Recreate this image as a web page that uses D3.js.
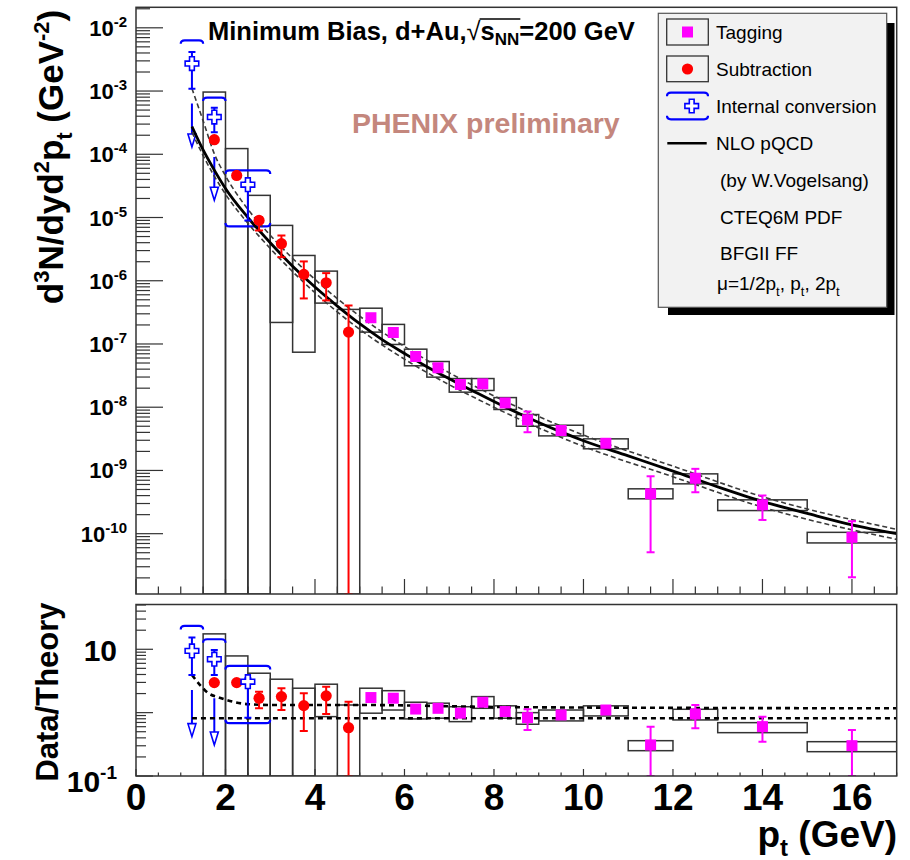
<!DOCTYPE html>
<html>
<head>
<meta charset="utf-8">
<script src="https://cdn.jsdelivr.net/npm/d3@7"></script>
<style>
  body { margin: 0; background: #fff; }
  svg { display: block; font-family: "Liberation Sans", Arial, Helvetica, sans-serif; }
</style>
</head>
<body>
<svg id="chart" width="910" height="860"></svg>
<script>
// ---- data: upper panel (d3N/dyd2pt, GeV^-2) ----
// Subtraction (red circles) + systematic boxes
const subPt = [1.75, 2.25, 2.75, 3.25, 3.75, 4.25, 4.75];
const subVal = [1.70e-4, 4.63e-5, 9.0e-6, 3.85e-6, 1.26e-6, 9.29e-7, 1.54e-7];
const subErrHi = [null, null, 1.01e-5, 5.21e-6, 2.02e-6, 1.32e-6, 4.06e-7];
const subErrLo = [null, null, 6.25e-6, 2.36e-6, 5.25e-7, 4.88e-7, 1e-13];
const subBinLo = [1.5, 2.0, 2.5, 3.0, 3.5, 4.0, 4.5];
const subBinHi = [2.0, 2.5, 3.0, 3.5, 4.0, 4.5, 5.0];
const subSysHi = [9.64e-4, 1.23e-4, 2.24e-5, 7.5e-6, 2.51e-6, 1.42e-6, 3.52e-7];
const subSysLo = [1e-13, 1e-13, 1e-13, 2.19e-7, 7.41e-8, 4.43e-7, 1e-13];

// Tagging (magenta squares) + systematic boxes
const tagPt = [5.25, 5.75, 6.25, 6.75, 7.25, 7.75, 8.25, 8.75, 9.5, 10.5, 11.5, 12.5, 14, 16];
const tagVal = [2.60e-7, 1.52e-7, 6.34e-8, 4.20e-8, 2.29e-8, 2.34e-8, 1.17e-8, 6.32e-9, 4.28e-9, 2.69e-9, 4.27e-10, 7.53e-10, 2.86e-10, 8.77e-11];
const tagErrHi = [null, null, null, null, null, null, null, 8.55e-9, null, null, 8.09e-10, 1.06e-9, 4.01e-10, 1.57e-10];
const tagErrLo = [null, null, null, null, null, null, null, 4.02e-9, null, null, 5.08e-11, 4.52e-10, 1.65e-10, 2.04e-11];
const tagBinLo = [5.0, 5.5, 6.0, 6.5, 7.0, 7.5, 8.0, 8.5, 9, 10, 11, 12, 13, 15];
const tagBinHi = [5.5, 6.0, 6.5, 7.0, 7.5, 8.0, 8.5, 9.0, 10, 11, 12, 13, 15, 17];
const tagSysHi = [3.68e-7, 2.04e-7, 8.28e-8, 5.28e-8, 2.84e-8, 2.84e-8, 1.42e-8, 7.66e-9, 5.19e-9, 3.16e-9, 5.12e-10, 8.83e-10, 3.43e-10, 1.05e-10];
const tagSysLo = [1.54e-7, 9.82e-8, 4.52e-8, 2.99e-8, 1.73e-8, 1.84e-8, 9.2e-9, 5.0e-9, 3.52e-9, 2.2e-9, 3.56e-10, 6.14e-10, 2.32e-10, 7.14e-11];

// Internal conversion (blue open crosses), brackets and downward arrows
const icPt = [1.25, 1.75, 2.5];
const icVal = [2.72e-3, 3.88e-4, 3.30e-5];
const icErrHi = [4.14e-3, 5.46e-4, 3.6e-5];
const icErrLo = [1.09e-3, 2.24e-4, 9.0e-6];
const icBinLo = [1.0, 1.5, 2.0];
const icBinHi = [1.5, 2.0, 3.0];
const icSysHi = [6.34e-3, 7.87e-4, 5.56e-5];
const icSysLo = [null, null, 7.23e-6];
const icArrowFrom = [6.38e-4, 9.04e-5, null];
const icArrowTo = [1.30e-4, 1.87e-5, null];

// NLO pQCD (W. Vogelsang), mu = pt (solid), pt/2 and 2pt (dashed)
const thPt = [1.25, 1.5, 1.75, 2.0, 2.5, 3.0, 3.5, 4.0, 4.5, 5.0, 5.5, 6.0, 6.5, 7.0, 7.5, 8.0, 8.5, 9.0, 9.5, 10, 11, 12, 13, 14, 15, 16, 17];
const thVal = [2.75e-4, 1.17e-4, 5.62e-5, 2.88e-5, 1.0e-5, 3.98e-6, 1.70e-6, 7.94e-7, 3.98e-7, 2.09e-7, 1.17e-7, 7.08e-8, 4.37e-8, 2.82e-8, 1.86e-8, 1.23e-8, 8.32e-9, 5.75e-9, 4.07e-9, 2.95e-9, 1.70e-9, 9.77e-10, 5.50e-10, 3.24e-10, 2.09e-10, 1.38e-10, 1.0e-10];
const thHiPt = [1.25, 1.5, 1.75, 2.0, 2.5, 3.0, 4.0, 5.0, 6.0, 8.0, 10, 12, 14, 17];
const thHiVal = [1.10e-3, 3.39e-4, 1.02e-4, 4.57e-5, 1.35e-5, 5.25e-6, 1.05e-6, 2.75e-7, 9.12e-8, 1.51e-8, 3.63e-9, 1.17e-9, 3.85e-10, 1.17e-10];
const thLoPt = [1.25, 1.5, 2.0, 2.5, 3.0, 4.0, 5.0, 6.0, 8.0, 10, 12, 14, 17];
const thLoVal = [2.24e-4, 9.55e-5, 2.34e-5, 8.13e-6, 3.24e-6, 6.46e-7, 1.70e-7, 5.75e-8, 1.0e-8, 2.40e-9, 7.94e-10, 2.63e-10, 8.13e-11];

// ---- data: lower panel (Data/Theory) ----
const rSubVal = [2.98, 2.98, 1.69, 1.79, 1.29, 1.84, 0.579];
const rSubErrHi = [null, null, 2.14, 2.43, 2.02, 2.57, 1.49];
const rSubErrLo = [null, null, 1.17, 1.10, 0.514, 0.953, 0.01];
const rSubSysHi = [17.5, 7.85, 4.19, 3.37, 2.43, 2.81, 1.32];
const rSubSysLo = [0.01, 0.01, 0.01, 0.01, 0.01, 0.865, 0.01];

const rTagVal = [1.73, 1.69, 1.14, 1.17, 0.98, 1.46, 1.04, 0.834, 0.92, 1.10, 0.309, 0.953, 0.601, 0.301];
const rTagErrHi = [null, null, null, null, null, null, null, 1.13, null, null, 0.601, 1.32, 0.865, 0.533];
const rTagErrLo = [null, null, null, null, null, null, null, 0.533, null, null, 0.01, 0.568, 0.348, 0.01];
const rTagSysHi = [2.43, 2.22, 1.46, 1.41, 1.24, 1.79, 1.28, 1.0, 1.10, 1.28, 0.361, 1.13, 0.695, 0.348];
const rTagSysLo = [0.98, 1.10, 0.796, 0.817, 0.721, 1.17, 0.817, 0.656, 0.74, 0.887, 0.251, 0.767, 0.483, 0.242];

const rIcVal = [9.42, 6.97, 3.08];
const rIcErrHi = [15.3, 9.77, 3.5];
const rIcErrLo = [3.94, 3.94, 0.834];
const rIcSysHi = [23.4, 14.4, 5.46];
const rIcSysLo = [null, null, 0.681];
const rIcArrowFrom = [2.28, 1.69, null];
const rIcArrowTo = [0.418, 0.309, null];

const rThHiPt = [1.25, 1.45, 1.62, 1.85, 2.03, 2.5, 3, 5, 8, 12, 17];
const rThHiVal = [3.94, 2.63, 2.02, 1.74, 1.58, 1.36, 1.32, 1.32, 1.23, 1.19, 1.17];
const rThLoPt = [1.25, 5, 10, 17];
const rThLoVal = [0.817, 0.817, 0.817, 0.817];

// ---- layout ----
const left = 136, right = 896.7;
const top1 = 7.3, bot1 = 594;
const top2 = 604.5, bot2 = 776;
const MAG = '#ff00ff', RED = '#ff0000', BLUE = '#0000ff', BOXC = '#333';

const svg = d3.select('#chart');
svg.append('rect').attr('width', 910).attr('height', 860).attr('fill', '#fff');

const x = d3.scaleLinear().domain([0, 17]).range([left, right]);
const yTop = d3.scaleLog().domain([1.112e-11, 2.11e-2]).range([bot1, top1]).clamp(true);
const yBot = d3.scaleLog().domain([0.1, 50.9]).range([bot2, top2]).clamp(true);

const defs = svg.append('defs');
defs.append('clipPath').attr('id', 'clipTop').append('rect')
    .attr('x', left).attr('y', top1).attr('width', right - left).attr('height', bot1 - top1);
defs.append('clipPath').attr('id', 'clipBot').append('rect')
    .attr('x', left).attr('y', top2).attr('width', right - left).attr('height', bot2 - top2);

// ---- axes ----
function isDecade(v) {
    const l = Math.log10(v);
    return Math.abs(l - Math.round(l)) < 1e-6;
}

function drawAxes(y, y0, y1, majL, minL, xMaj, xMin) {
    const g = svg.append('g').attr('stroke', '#333').attr('stroke-width', 1.2);
    y.ticks(40).forEach(v => {
        const py = y(v);
        if (py < y0 - 0.5 || py > y1 + 0.5) return;
        const len = isDecade(v) ? majL : minL;
        g.append('line').attr('x1', left).attr('x2', left + len).attr('y1', py).attr('y2', py);
    });
    d3.range(0, 17.01, 0.5).forEach(v => {
        const len = (v % 2 === 0) ? xMaj : xMin;
        g.append('line').attr('x1', x(v)).attr('x2', x(v)).attr('y1', y1).attr('y2', y1 - len);
    });
}
drawAxes(yTop, top1, bot1, 27, 14, 15, 7.5);
drawAxes(yBot, top2, bot2, 17, 10, 7, 3.5);

// tick labels, upper
d3.range(-10, -1).forEach(e => {
    const py = yTop(Math.pow(10, e));
    const t = svg.append('text').attr('x', 127).attr('y', py + 8)
        .attr('text-anchor', 'end').attr('font-weight', 'bold').attr('font-size', 22);
    t.append('tspan').text('10');
    t.append('tspan').attr('font-size', 15).attr('dy', -9).text(String(e));
});
// tick labels, lower
[[10, null, 12], [0.1, '-1', 16]].forEach(([v, ex, off]) => {
    const t = svg.append('text').attr('x', 117).attr('y', yBot(v) + off)
        .attr('text-anchor', 'end').attr('font-weight', 'bold').attr('font-size', 30);
    if (ex) {
        t.append('tspan').text('10');
        t.append('tspan').attr('font-size', 19).attr('dy', -13).text(ex);
    } else {
        t.text('10');
    }
});
// x labels
d3.range(0, 17, 2).forEach(v => {
    svg.append('text').attr('x', x(v)).attr('y', 810).attr('text-anchor', 'middle')
        .attr('font-weight', 'bold').attr('font-size', 37).text(v);
});

// axis titles
const xt = svg.append('text').attr('x', 897).attr('y', 847).attr('text-anchor', 'end')
    .attr('font-weight', 'bold').attr('font-size', 37);
xt.append('tspan').text('p');
xt.append('tspan').attr('font-size', 24).attr('dy', 9).text('t');
xt.append('tspan').attr('dy', -9).text(' (GeV)');

const yt = svg.append('text').attr('transform', 'translate(63,157) rotate(-90)')
    .attr('text-anchor', 'middle').attr('font-weight', 'bold').attr('font-size', 35);
yt.append('tspan').text('d');
yt.append('tspan').attr('font-size', 22).attr('dy', -14).text('3');
yt.append('tspan').attr('dy', 14).text('N/dyd');
yt.append('tspan').attr('font-size', 22).attr('dy', -14).text('2');
yt.append('tspan').attr('dy', 14).text('p');
yt.append('tspan').attr('font-size', 22).attr('dy', 9).text('t');
yt.append('tspan').attr('dy', -9).text(' (GeV');
yt.append('tspan').attr('font-size', 22).attr('dy', -14).text('-2');
yt.append('tspan').attr('dy', 14).text(')');

svg.append('text').attr('transform', 'translate(58,692) rotate(-90)')
    .attr('text-anchor', 'middle').attr('font-weight', 'bold').attr('font-size', 31)
    .text('Data/Theory');

// ---- mark helpers ----
function sysBox(g, y, lo, hi, x0, x1) {
    const ya = y(hi), yb = y(lo);
    g.append('rect').attr('x', x(x0)).attr('y', ya).attr('width', x(x1) - x(x0)).attr('height', yb - ya)
        .attr('fill', 'none').attr('stroke', BOXC).attr('stroke-width', 1.5);
}
function errBar(g, y, px, hi, lo, color, cap) {
    if (hi == null) return;
    const cx = x(px);
    g.append('line').attr('x1', cx).attr('x2', cx).attr('y1', y(hi)).attr('y2', y(lo))
        .attr('stroke', color).attr('stroke-width', 2);
    [hi, lo].forEach(v => {
        g.append('line').attr('x1', cx - cap).attr('x2', cx + cap).attr('y1', y(v)).attr('y2', y(v))
            .attr('stroke', color).attr('stroke-width', 2);
    });
}
function bracket(g, x0, x1, py, dir) {
    // dir = 1 hooks down (upper bracket), -1 hooks up (lower bracket)
    const h = 3.5 * dir;
    g.append('path')
        .attr('d', `M${x0},${py + h} Q${x0},${py} ${x0 + 4},${py} L${x1 - 4},${py} Q${x1},${py} ${x1},${py + h}`)
        .attr('fill', 'none').attr('stroke', BLUE).attr('stroke-width', 2.2);
}
function arrowDown(g, cx, yFrom, yTo) {
    g.append('line').attr('x1', cx).attr('x2', cx).attr('y1', yFrom).attr('y2', yTo - 12)
        .attr('stroke', BLUE).attr('stroke-width', 2);
    g.append('path').attr('d', `M${cx - 4},${yTo - 13} L${cx + 4},${yTo - 13} L${cx},${yTo} Z`)
        .attr('fill', '#fff').attr('stroke', BLUE).attr('stroke-width', 1.6);
}
function openCross(g, cx, cy) {
    const a = 2.4, L = 6.8;
    const pts = [[-a, -L], [a, -L], [a, -a], [L, -a], [L, a], [a, a], [a, L], [-a, L], [-a, a], [-L, a], [-L, -a], [-a, -a]];
    g.append('path').attr('d', 'M' + pts.map(p => (cx + p[0]) + ',' + (cy + p[1])).join('L') + 'Z')
        .attr('fill', '#fff').attr('stroke', BLUE).attr('stroke-width', 1.6);
}
function square(g, cx, cy) {
    g.append('rect').attr('x', cx - 5.5).attr('y', cy - 5.5).attr('width', 11).attr('height', 11).attr('fill', MAG);
}
function dot(g, cx, cy) {
    g.append('circle').attr('cx', cx).attr('cy', cy).attr('r', 5.6).attr('fill', RED);
}

// ---- draw one panel ----
function drawPanel(clipId, y, d) {
    const g = svg.append('g').attr('clip-path', `url(#${clipId})`);
    // systematic boxes
    d.subSysHi.forEach((hi, i) => sysBox(g, y, d.subSysLo[i], hi, subBinLo[i], subBinHi[i]));
    d.tagSysHi.forEach((hi, i) => sysBox(g, y, d.tagSysLo[i], hi, tagBinLo[i], tagBinHi[i]));
    // internal conversion brackets/arrows
    icPt.forEach((p, i) => {
        bracket(g, x(icBinLo[i]), x(icBinHi[i]), y(d.icSysHi[i]), 1);
        if (d.icSysLo[i] != null) bracket(g, x(icBinLo[i]), x(icBinHi[i]), y(d.icSysLo[i]), -1);
        if (d.icArrowFrom[i] != null) arrowDown(g, x(p), y(d.icArrowFrom[i]), y(d.icArrowTo[i]));
    });
    // theory curves
    const line = d3.line().x(p => x(p[0])).y(p => y(p[1])).curve(d3.curveMonotoneX);
    d.curves.forEach(c => {
        g.append('path').attr('d', line(d3.zip(c.pt, c.val)))
            .attr('fill', 'none').attr('stroke', c.color).attr('stroke-width', c.width)
            .attr('stroke-dasharray', c.dash);
    });
    // error bars + markers
    subPt.forEach((p, i) => errBar(g, y, p, d.subErrHi[i], d.subErrLo[i], RED, 4));
    tagPt.forEach((p, i) => errBar(g, y, p, d.tagErrHi[i], d.tagErrLo[i], MAG, 4));
    icPt.forEach((p, i) => errBar(g, y, p, d.icErrHi[i], d.icErrLo[i], BLUE, 3.5));
    subPt.forEach((p, i) => dot(g, x(p), y(d.subVal[i])));
    tagPt.forEach((p, i) => square(g, x(p), y(d.tagVal[i])));
    icPt.forEach((p, i) => openCross(g, x(p), y(d.icVal[i])));
}

drawPanel('clipTop', yTop, {
    subVal, subErrHi, subErrLo, subSysHi, subSysLo,
    tagVal, tagErrHi, tagErrLo, tagSysHi, tagSysLo,
    icVal, icErrHi, icErrLo, icSysHi, icSysLo, icArrowFrom, icArrowTo,
    curves: [
        { pt: thHiPt, val: thHiVal, color: '#3a3a3a', width: 1.6, dash: '5,3' },
        { pt: thLoPt, val: thLoVal, color: '#3a3a3a', width: 1.6, dash: '5,3' },
        { pt: thPt, val: thVal, color: '#000', width: 2.8, dash: null }
    ]
});
drawPanel('clipBot', yBot, {
    subVal: rSubVal, subErrHi: rSubErrHi, subErrLo: rSubErrLo, subSysHi: rSubSysHi, subSysLo: rSubSysLo,
    tagVal: rTagVal, tagErrHi: rTagErrHi, tagErrLo: rTagErrLo, tagSysHi: rTagSysHi, tagSysLo: rTagSysLo,
    icVal: rIcVal, icErrHi: rIcErrHi, icErrLo: rIcErrLo, icSysHi: rIcSysHi, icSysLo: rIcSysLo,
    icArrowFrom: rIcArrowFrom, icArrowTo: rIcArrowTo,
    curves: [
        { pt: rThHiPt, val: rThHiVal, color: '#000', width: 2.6, dash: '5,4' },
        { pt: rThLoPt, val: rThLoVal, color: '#000', width: 2.6, dash: '5,4' }
    ]
});

// frames
[[top1, bot1], [top2, bot2]].forEach(([a, b]) => {
    svg.append('rect').attr('x', left).attr('y', a).attr('width', right - left).attr('height', b - a)
        .attr('fill', 'none').attr('stroke', '#333').attr('stroke-width', 1.5);
});

// ---- title and watermark ----
const title = svg.append('text').attr('x', 208).attr('y', 40)
    .attr('font-weight', 'bold').attr('font-size', 25.5);
title.append('tspan').text('Minimum Bias, d+Au,');
title.append('tspan').attr('font-weight', 'normal').text('\u221A');
title.append('tspan').text('s');
title.append('tspan').attr('font-size', 17).attr('dy', 5).text('NN');
title.append('tspan').attr('dy', -5).text('=200 GeV');
(function overline() {
    const n = title.node();
    const s = n.textContent;
    const i0 = s.indexOf('\u221A') + 1;
    const a = n.getExtentOfChar(i0), b = n.getExtentOfChar(i0 + 2);
    svg.append('line').attr('x1', a.x - 1).attr('x2', b.x + b.width + 1)
        .attr('y1', 19).attr('y2', 19).attr('stroke', '#000').attr('stroke-width', 1.6);
})();

svg.append('text').attr('x', 352).attr('y', 133).attr('font-weight', 'bold').attr('font-size', 28.5)
    .attr('fill', '#c4877d').text('PHENIX preliminary');

// ---- legend ----
const lg = svg.append('g');
lg.append('rect').attr('x', 668).attr('y', 23).attr('width', 226.5).attr('height', 292).attr('fill', '#000');
lg.append('rect').attr('x', 658.3).attr('y', 13.3).attr('width', 228.4).attr('height', 294)
    .attr('fill', '#f2f2f2').attr('stroke', '#555').attr('stroke-width', 1.2);
lg.append('rect').attr('x', 666.7).attr('y', 19).attr('width', 41.6).attr('height', 26)
    .attr('fill', 'none').attr('stroke', BOXC).attr('stroke-width', 1.3);
square(lg, 687.5, 32);
lg.append('rect').attr('x', 666.7).attr('y', 56).attr('width', 41.6).attr('height', 25.7)
    .attr('fill', 'none').attr('stroke', BOXC).attr('stroke-width', 1.3);
dot(lg, 687.5, 69);
bracket(lg, 667, 708, 92.7, 1);
bracket(lg, 667, 708, 119.3, -1);
openCross(lg, 691.7, 106);
lg.append('line').attr('x1', 667.3).attr('x2', 706.7).attr('y1', 143.3).attr('y2', 143.3)
    .attr('stroke', '#000').attr('stroke-width', 2.6);

const legendRows = [
    { x: 716, y: 38.5, txt: 'Tagging' },
    { x: 716, y: 76, txt: 'Subtraction' },
    { x: 716, y: 113, txt: 'Internal conversion' },
    { x: 716, y: 150, txt: 'NLO pQCD' },
    { x: 720, y: 186.5, txt: '(by W.Vogelsang)' },
    { x: 720, y: 223.5, txt: 'CTEQ6M PDF' },
    { x: 720, y: 260, txt: 'BFGII FF' }
];
legendRows.forEach(r => {
    lg.append('text').attr('x', r.x).attr('y', r.y).attr('font-size', 19).text(r.txt);
});
const mu = lg.append('text').attr('x', 717).attr('y', 290).attr('font-size', 19);
mu.append('tspan').text('\u03BC=1/2p');
mu.append('tspan').attr('font-size', 13).attr('dy', 6).text('t');
mu.append('tspan').attr('dy', -6).text(', p');
mu.append('tspan').attr('font-size', 13).attr('dy', 6).text('t');
mu.append('tspan').attr('dy', -6).text(', 2p');
mu.append('tspan').attr('font-size', 13).attr('dy', 6).text('t');
</script>
</body>
</html>
